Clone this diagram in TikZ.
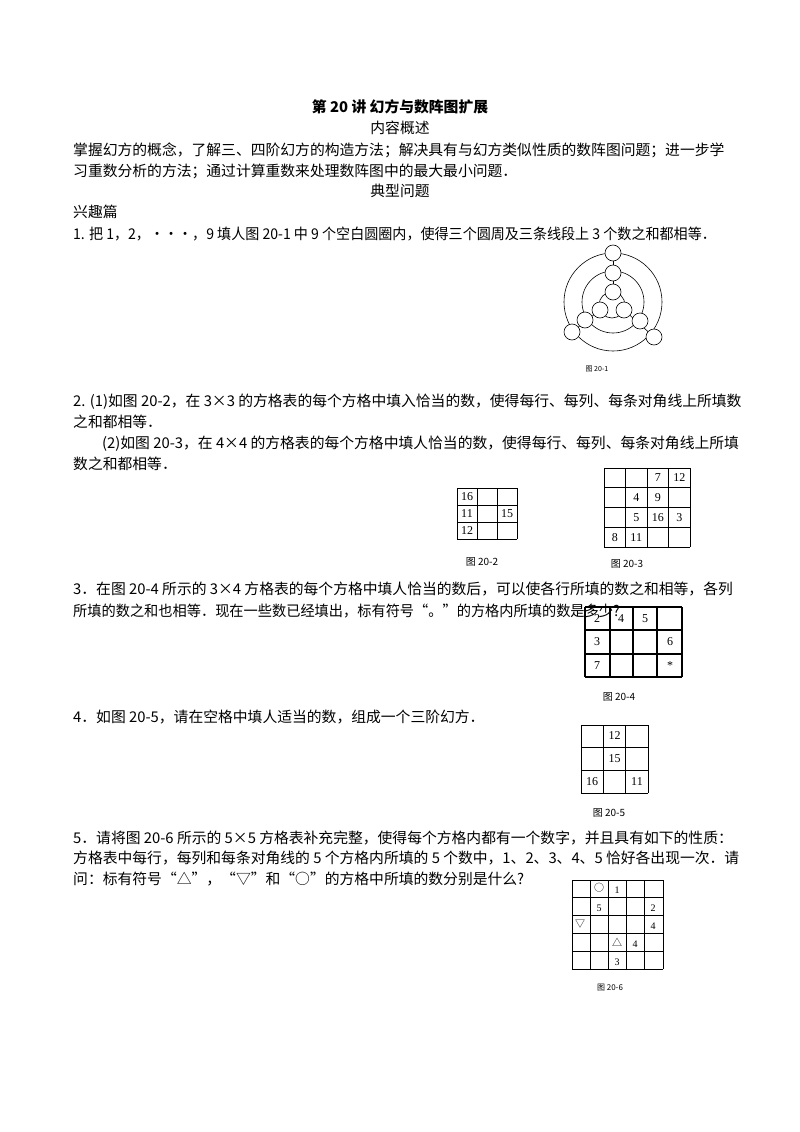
\documentclass[tikz,border=0pt]{standalone}
\usepackage{fontspec}
\setmainfont{Liberation Serif}
\newfontfamily\cjk{Noto Sans CJK SC}
\begin{document}
\begin{tikzpicture}[x=1pt,y=-1pt,
  line/.style={anchor=west,inner sep=0pt,font=\cjk\fontsize{14.8}{16}\selectfont},
  ctr/.style={inner sep=0pt,font=\cjk\fontsize{14.8}{16}\selectfont},
  figcap/.style={inner sep=0pt,font=\cjk\fontsize{10}{11}\selectfont},
  num/.style={inner sep=0pt,font=\fontsize{12}{13}\selectfont},
  sc/.style={circle,draw,fill=white,minimum size=16pt,inner sep=0pt,line width=0.6pt}]
\useasboundingbox (0,0) rectangle (800,1132);
\fill[white] (0,0) rectangle (800,1132);
\node[ctr,font=\cjk\bfseries\fontsize{14.8}{16}\selectfont] (title) at (400,107) {第 20 讲\ 幻方与数阵图扩展};
\node[ctr] (h1) at (400,128) {内容概述};
\node[line] (p1) at (73,150) {掌握幻方的概念，了解三、四阶幻方的构造方法；解决具有与幻方类似性质的数阵图问题；进一步学};
\node[line] (p2) at (73,171) {习重数分析的方法；通过计算重数来处理数阵图中的最大最小问题．};
\node[ctr] (h2) at (400,191) {典型问题};
\node[line] (h3) at (73,212) {兴趣篇};
\node[line,xscale=0.95,transform shape] (q1) at (73,234) {1. 把 1，2，···，9 填人图 20-1 中 9 个空白圆圈内，使得三个圆周及三条线段上 3 个数之和都相等．};
% fig 20-1
\draw[line width=0.6pt] (613,302) circle (49);
\draw[line width=0.6pt] (613,302) circle (31);
\draw[line width=0.6pt] (612,305) circle (13);
\draw[line width=0.6pt] (613,253) -- (613,293);
\draw[line width=0.6pt] (572,332) -- (600,310);
\draw[line width=0.6pt] (654,337) -- (624,310);
\node[sc] (o1) at (613,253) {};
\node[sc] (o2) at (572,332) {};
\node[sc] (o3) at (654,337) {};
\node[sc] (m1) at (613,273) {};
\node[sc] (m2) at (585,320) {};
\node[sc] (m3) at (640,321) {};
\node[sc] (i1) at (613,292) {};
\node[sc] (i2) at (600,310) {};
\node[sc] (i3) at (624,310) {};
\node[figcap,font=\cjk\fontsize{7}{8}\selectfont] (cap1) at (597,369) {图 20-1};
\node[line] (q2a) at (73,402) {2. (1)如图 20-2，在 3×3 的方格表的每个方格中填入恰当的数，使得每行、每列、每条对角线上所填数};
\node[line] (q2b) at (73,422) {之和都相等．};
\node[line] (q2c) at (102,444) {(2)如图 20-3，在 4×4 的方格表的每个方格中填人恰当的数，使得每行、每列、每条对角线上所填};
\node[line] (q2d) at (73,464) {数之和都相等．};
% fig 20-2
\foreach \i in {0,...,3}{\draw[line width=0.6pt] (457+20*\i,488) -- (457+20*\i,539); \draw[line width=0.6pt] (457,488+17*\i) -- (517,488+17*\i);}
\node[num] (a1) at (467,496.5) {16};
\node[num] (a2) at (467,513.5) {11};
\node[num] (a3) at (507,513.5) {15};
\node[num] (a4) at (467,530.5) {12};
\node[figcap] (cap2) at (482,562) {图 20-2};
% fig 20-3
\foreach \i in {0,...,4}{\draw[line width=0.6pt] (604+21.5*\i,468) -- (604+21.5*\i,547); \draw[line width=0.6pt] (604,468+19.75*\i) -- (690,468+19.75*\i);}
\node[num] (b1) at (657.75,478) {7};
\node[num] (b2) at (679.25,478) {12};
\node[num] (b3) at (636.25,497.6) {4};
\node[num] (b4) at (657.75,497.6) {9};
\node[num] (b5) at (636.25,517.4) {5};
\node[num] (b6) at (657.75,517.4) {16};
\node[num] (b7) at (679.25,517.4) {3};
\node[num] (b8) at (614.75,537.1) {8};
\node[num] (b9) at (636.25,537.1) {11};
\node[figcap] (cap3) at (627,564) {图 20-3};
\node[line] (q3a) at (73,589) {3．在图 20-4 所示的 3×4 方格表的每个方格中填人恰当的数后，可以使各行所填的数之和相等，各列};
\node[line,xscale=0.96,transform shape] (q3b) at (73,611) {所填的数之和也相等．现在一些数已经填出，标有符号“。”的方格内所填的数是多少?};
% fig 20-4
\foreach \x in {585,610,633,657,682}{\draw[line width=1.1pt] (\x,607) -- (\x,677);}
\foreach \y in {607,630,654,677}{\draw[line width=1.1pt] (585,\y) -- (682,\y);}
\node[num] (d1) at (597,619) {2};
\node[num] (d2) at (621,619) {4};
\node[num] (d3) at (645,619) {5};
\node[num] (d4) at (597,642) {3};
\node[num] (d5) at (670,642) {6};
\node[num] (d6) at (597,666) {7};
\node[num] (d7) at (670,666) {*};
\node[figcap] (cap4) at (619,697) {图 20-4};
\node[line] (q4) at (73,717) {4．如图 20-5，请在空格中填人适当的数，组成一个三阶幻方．};
% fig 20-5
\foreach \i in {0,...,3}{\draw[line width=0.6pt] (581+22.33*\i,725) -- (581+22.33*\i,793); \draw[line width=0.6pt] (581,725+22.67*\i) -- (648,725+22.67*\i);}
\node[num] (e1) at (614.5,736) {12};
\node[num] (e2) at (614.5,759) {15};
\node[num] (e3) at (592,782) {16};
\node[num] (e4) at (637,782) {11};
\node[figcap] (cap5) at (609,813) {图 20-5};
\node[line] (q5a) at (73,838) {5．请将图 20-6 所示的 5×5 方格表补充完整，使得每个方格内都有一个数字，并且具有如下的性质：};
\node[line] (q5b) at (73,858) {方格表中每行，每列和每条对角线的 5 个方格内所填的 5 个数中，1、2、3、4、5 恰好各出现一次．请};
\node[line] (q5c) at (73,879) {问：标有符号“△”，“▽”和“○”的方格中所填的数分别是什么?};
% fig 20-6
\foreach \i in {0,...,5}{\draw[line width=0.8pt] (572+18.2*\i,880) -- (572+18.2*\i,969); \draw[line width=0.8pt] (572,880+17.8*\i) -- (663,880+17.8*\i);}
\node[num,font=\cjk\fontsize{10}{11}\selectfont] (f1) at (599,888) {○};
\node[num,font=\fontsize{10}{11}\selectfont] (f2) at (617,890) {1};
\node[num,font=\fontsize{10}{11}\selectfont] (f3) at (599,908) {5};
\node[num,font=\fontsize{10}{11}\selectfont] (f4) at (653,908) {2};
\node[num,font=\cjk\fontsize{10}{11}\selectfont] (f5) at (580,924) {▽};
\node[num,font=\fontsize{10}{11}\selectfont] (f6) at (653,926) {4};
\node[num,font=\cjk\fontsize{10}{11}\selectfont] (f7) at (617,942) {△};
\node[num,font=\fontsize{10}{11}\selectfont] (f8) at (635,944) {4};
\node[num,font=\fontsize{10}{11}\selectfont] (f9) at (617,962) {3};
\node[figcap,font=\cjk\fontsize{8}{9}\selectfont] (cap6) at (610,988) {图 20-6};
\end{tikzpicture}
\end{document}
